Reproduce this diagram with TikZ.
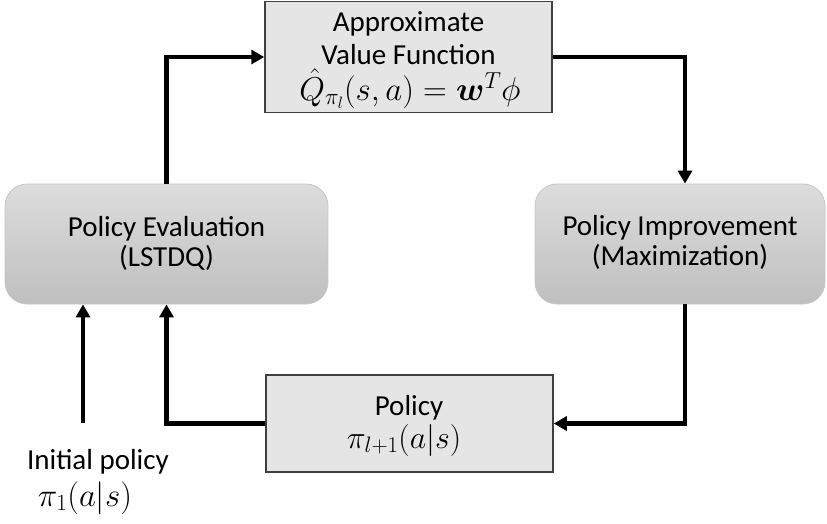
\RequirePackage{fix-cm}
\documentclass[tikz,border=0pt]{standalone}
\usepackage[no-math]{fontspec}
\setmainfont{Carlito}
\usepackage{amsmath,bm}
\usetikzlibrary{arrows.meta}
\begin{document}
\begin{tikzpicture}[x=1pt,y=-1pt,
  txt/.style={font=\fontsize{29}{35}\selectfont, inner sep=0pt, anchor=base},
  mth/.style={inner sep=0pt, anchor=base, font=\fontsize{#1}{#1}\selectfont},
  sqbox/.style={draw=black!75, line width=1.5pt, fill=gray!20,
    minimum width=287pt, inner sep=0pt},
  rbox/.style={rounded corners=22pt, top color=gray!27, bottom color=gray!50,
    draw=gray!45, line width=0.8pt, minimum width=#1, minimum height=120pt, inner sep=0pt},
  arr/.style={line width=4.5pt, -{Triangle[length=13pt,width=14pt]}}
]
\useasboundingbox (0,0) rectangle (827,523);
% boxes
\node[sqbox, minimum height=111pt] (tbox) at (408.5,57) {};
\node[rbox=323pt] (lbox) at (166.5,244) {};
\node[rbox=290pt] (rbox) at (680,244) {};
\node[sqbox, minimum height=97pt] (pbox) at (409.5,423.5) {};
% texts
\node[txt] (t1) at (408.5,31) {Approximate};
\node[txt] (t2) at (408.5,64) {Value Function};
\node[mth=33] (t3) at (410,100) {$\hat{Q}_{\pi_l}(s,a)=\boldsymbol{w}^T\phi$};
\node[txt] (l1) at (166.5,236) {Policy Evaluation};
\node[txt] (l2) at (166.5,266) {(LSTDQ)};
\node[txt] (r1) at (680,235) {Policy Improvement};
\node[txt] (r2) at (680,265) {(Maximization)};
\node[txt] (p1) at (409,415) {Policy};
\node[mth=32] (p2) at (404,448) {$\pi_{l+1}(a|s)$};
\coordinate (ini) at (83,423);
\node[txt] (itext) at (98,469) {Initial policy};
\node[mth=33] (ipi) at (85,506) {$\pi_1(a|s)$};
% connectors
\draw[arr] (lbox.north) |- (tbox.west);
\draw[arr] (tbox.east) -| ([xshift=5pt]rbox.north);
\draw[arr] ([xshift=5pt]rbox.south) |- (pbox.east);
\draw[arr] (pbox.west) -| (lbox.south);
\draw[arr] (ini) -- (ini |- lbox.south);
\end{tikzpicture}
\end{document}
